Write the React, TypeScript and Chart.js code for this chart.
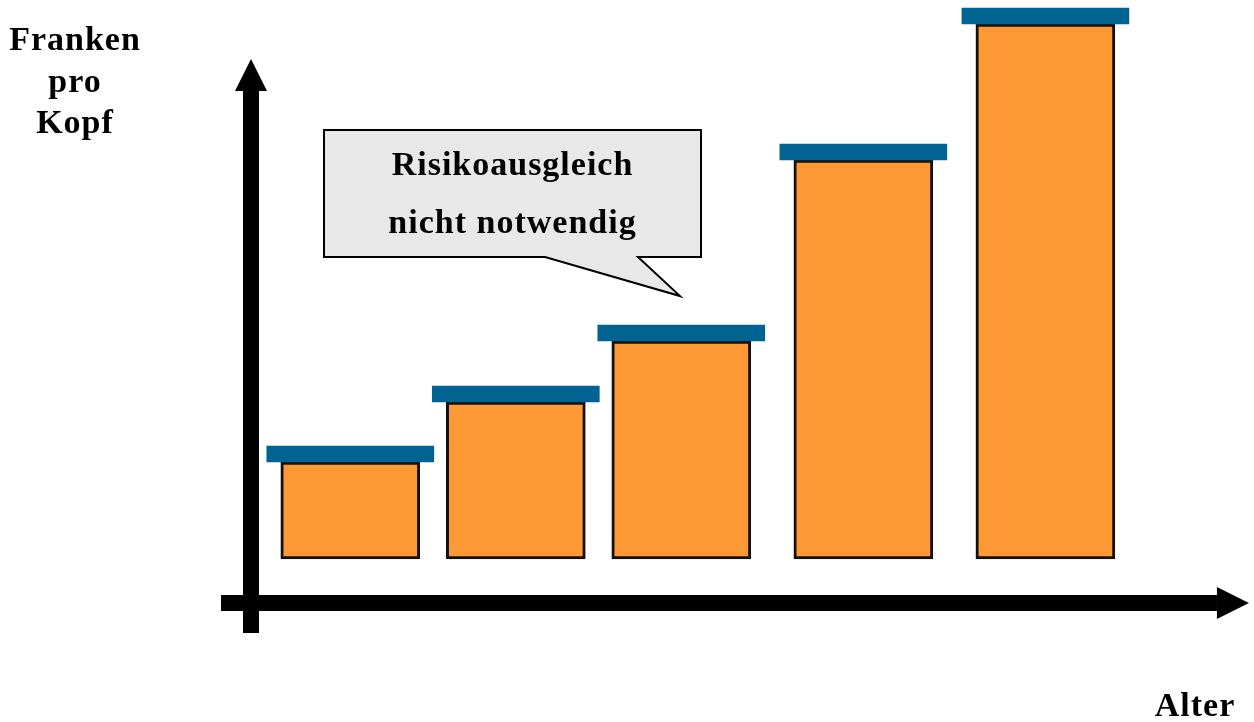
import React, { useEffect, useRef } from "react";
import { Chart, registerables } from "chart.js";

Chart.register(...registerables);

// Age groups (x positions, years) and per-head cost levels (arbitrary units)
const ageGroups = [25, 35, 45, 56, 67];
const costBase = [8.8, 8.8, 8.8, 8.8, 8.8];
const costTop = [28.2, 40.2, 52.4, 88.6, 115.8];
const capSize = [3.2, 3.2, 3.2, 3.2, 3.2];

const yAxisTitle = ["Franken", "pro", "Kopf"];
const xAxisTitle = "Alter";
const calloutLines = ["Risikoausgleich", "nicht notwendig"];

const ORANGE = "#FF9935";
const BLUE = "#006391";
const FONT = "bold 34px 'Liberation Serif', 'DejaVu Serif', serif";

const decorPlugin = {
  id: "decor",
  afterDatasetsDraw(chart: any) {
    const { ctx } = chart;
    const yS = chart.scales.y;
    const xS = chart.scales.x;
    const ax = xS.getPixelForValue(19);
    const ay = yS.getPixelForValue(0);
    const shaft = 16;
    const headW = 32;
    const headL = 32;
    ctx.save();
    ctx.fillStyle = "#000";
    // vertical axis arrow
    const vTop = yS.getPixelForValue(108.8);
    ctx.fillRect(ax - shaft / 2, vTop + headL, shaft, ay + 30 - (vTop + headL));
    ctx.beginPath();
    ctx.moveTo(ax, vTop);
    ctx.lineTo(ax - headW / 2, vTop + headL);
    ctx.lineTo(ax + headW / 2, vTop + headL);
    ctx.closePath();
    ctx.fill();
    // horizontal axis arrow
    const hRight = xS.getPixelForValue(79.3);
    ctx.fillRect(ax - 30, ay - shaft / 2, hRight - headL - (ax - 30), shaft);
    ctx.beginPath();
    ctx.moveTo(hRight, ay);
    ctx.lineTo(hRight - headL, ay - headW / 2);
    ctx.lineTo(hRight - headL, ay + headW / 2);
    ctx.closePath();
    ctx.fill();

    // callout box
    const bx0 = 324, bx1 = 701, by0 = 130, by1 = 257;
    ctx.beginPath();
    ctx.moveTo(bx0, by0);
    ctx.lineTo(bx1, by0);
    ctx.lineTo(bx1, by1);
    ctx.lineTo(638, by1);
    ctx.lineTo(680, 296);
    ctx.lineTo(545, by1);
    ctx.lineTo(bx0, by1);
    ctx.closePath();
    ctx.fillStyle = "#E8E8E8";
    ctx.fill();
    ctx.lineWidth = 2;
    ctx.strokeStyle = "#000";
    ctx.lineJoin = "miter";
    ctx.stroke();

    ctx.fillStyle = "#000";
    ctx.font = FONT;
    try { (ctx as any).letterSpacing = "1px"; } catch (e) {}
    ctx.textAlign = "center";
    ctx.textBaseline = "alphabetic";
    ctx.fillText(calloutLines[0], (bx0 + bx1) / 2, 175);
    ctx.fillText(calloutLines[1], (bx0 + bx1) / 2, 233);

    // axis titles
    const tb = [50, 92, 133];
    yAxisTitle.forEach((t, i) => ctx.fillText(t, 75, tb[i]));
    ctx.fillText(xAxisTitle, 1195, 716);
    ctx.restore();
  },
};

export default function App() {
  const ref = useRef<HTMLCanvasElement | null>(null);
  useEffect(() => {
    if (!ref.current) return;
    const chart = new Chart(ref.current, {
      type: "bar",
      data: {
        datasets: [
          {
            label: "Deckel",
            data: ageGroups.map((a, i) => ({ x: a, y: [costTop[i], costTop[i] + capSize[i]] })),
            backgroundColor: BLUE,
            borderWidth: 0,
            barThickness: 167,
            grouped: false,
            order: 0,
          } as any,
          {
            label: "Kosten",
            data: ageGroups.map((a, i) => ({ x: a, y: [costBase[i], costTop[i]] })),
            backgroundColor: ORANGE,
            borderColor: "#111",
            borderWidth: 3,
            borderSkipped: false,
            barThickness: 139,
            grouped: false,
            order: 1,
          } as any,
        ],
      },
      options: {
        animation: false,
        responsive: false,
        layout: { padding: { left: 251, right: 10, top: 3, bottom: 119 } },
        plugins: { legend: { display: false }, tooltip: { enabled: false } },
        scales: {
          x: { type: "linear", min: 19, max: 79, offset: false, display: false },
          y: { type: "linear", min: 0, max: 120, display: false },
        },
      },
      plugins: [decorPlugin],
    });
    return () => chart.destroy();
  }, []);
  return (
    <div style={{ position: "absolute", left: 0, top: 0, width: 1254, height: 722, background: "#fff" }}>
      <canvas ref={ref} width={1254} height={722} />
    </div>
  );
}
